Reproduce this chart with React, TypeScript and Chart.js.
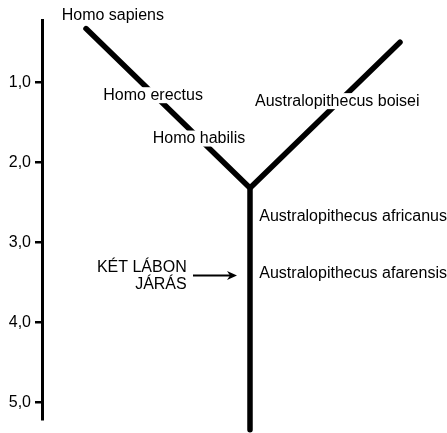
import { useEffect, useRef } from 'react';
import { Chart, registerables } from 'chart.js';

Chart.register(...registerables);

// Schematic horizontal position (arbitrary units) and time in millions of years ago
const stemX = [44, 208, 208];
const stemY = [0.33, 2.32, 5.34];
const boiseiX = [208, 358];
const boiseiY = [2.32, 0.5];

const yTicks = [1, 2, 3, 4, 5];

const labelTexts = [
  'Homo sapiens',
  'Homo erectus',
  'Homo habilis',
  'Australopithecus boisei',
  'Australopithecus africanus',
  'Australopithecus afarensis',
];
const labelX = [19.7, 61.3, 110.7, 213, 217.3, 217.3];
const labelY = [0.165, 1.162, 1.703, 1.236, 2.68, 3.394];

const noteLines = ['KÉT LÁBON', 'JÁRÁS'];
const noteX = [144.7, 144.7];
const noteY = [3.313, 3.525];

const arrowX = [151, 195];
const arrowY = [3.413, 3.413];

const FONT = '16px "Liberation Sans", Arial, sans-serif';

const labelPlugin = {
  id: 'labels',
  afterDatasetsDraw(chart: any) {
    const { ctx, scales } = chart;
    const xs = scales.x;
    const ys = scales.y;
    ctx.save();
    ctx.font = FONT;
    ctx.textBaseline = 'middle';
    labelTexts.forEach((t, i) => {
      const px = xs.getPixelForValue(labelX[i]);
      const py = ys.getPixelForValue(labelY[i]);
      const w = ctx.measureText(t).width;
      ctx.fillStyle = '#ffffff';
      ctx.fillRect(px - 2, py - 8, w + 4, 16);
      ctx.fillStyle = '#000000';
      ctx.textAlign = 'left';
      ctx.fillText(t, px, py);
    });
    noteLines.forEach((t, i) => {
      const px = xs.getPixelForValue(noteX[i]);
      const py = ys.getPixelForValue(noteY[i]);
      ctx.fillStyle = '#000000';
      ctx.textAlign = 'right';
      ctx.fillText(t, px, py);
    });
    const ax1 = xs.getPixelForValue(arrowX[0]);
    const ax2 = xs.getPixelForValue(arrowX[1]);
    const ay = ys.getPixelForValue(arrowY[0]);
    ctx.strokeStyle = '#000000';
    ctx.lineWidth = 2;
    ctx.lineCap = 'butt';
    ctx.beginPath();
    ctx.moveTo(ax1, ay);
    ctx.lineTo(ax2 - 6, ay);
    ctx.stroke();
    ctx.fillStyle = '#000000';
    ctx.beginPath();
    ctx.moveTo(ax2, ay);
    ctx.lineTo(ax2 - 10, ay - 4.5);
    ctx.lineTo(ax2 - 7, ay);
    ctx.lineTo(ax2 - 10, ay + 4.5);
    ctx.closePath();
    ctx.fill();
    ctx.restore();
  },
};

export default function App() {
  const ref = useRef<HTMLCanvasElement | null>(null);
  useEffect(() => {
    if (!ref.current) return;
    const lineStyle = {
      borderColor: '#000000',
      borderWidth: 5.5,
      borderCapStyle: 'round' as const,
      borderJoinStyle: 'round' as const,
      pointRadius: 0,
      tension: 0,
      clip: false as any,
      fill: false,
    };
    const chart = new Chart(ref.current, {
      type: 'line',
      data: {
        datasets: [
          { ...lineStyle, data: stemX.map((x, i) => ({ x, y: stemY[i] })) },
          { ...lineStyle, data: boiseiX.map((x, i) => ({ x, y: boiseiY[i] })) },
        ],
      },
      options: {
        animation: false,
        responsive: false,
        layout: { padding: { top: 20, bottom: 12, left: 0, right: 0 } },
        plugins: { legend: { display: false }, tooltip: { enabled: false } },
        events: [],
        scales: {
          x: { type: 'linear', display: false, min: 0, max: 405 },
          y: {
            type: 'linear',
            reverse: true,
            min: 0.223,
            max: 5.21,
            afterBuildTicks: (s: any) => {
              s.ticks = yTicks.map((v) => ({ value: v }));
            },
            afterFit: (s: any) => {
              s.width = 42;
            },
            border: { display: true, color: '#000000', width: 3 },
            grid: { drawOnChartArea: false, drawTicks: true, tickLength: 7, color: '#000000', lineWidth: 2.5 },
            ticks: {
              color: '#000000',
              padding: 4,
              font: { family: '"Liberation Sans", Arial, sans-serif', size: 16 },
              callback: (v: any) => Number(v).toFixed(1).replace('.', ','),
            },
          },
        },
      },
      plugins: [labelPlugin],
    });
    return () => chart.destroy();
  }, []);
  return (
    <div style={{ position: 'absolute', left: 0, top: 0, width: 447, height: 433, background: '#fff' }}>
      <canvas ref={ref} width={447} height={433} style={{ display: 'block' }} />
    </div>
  );
}
